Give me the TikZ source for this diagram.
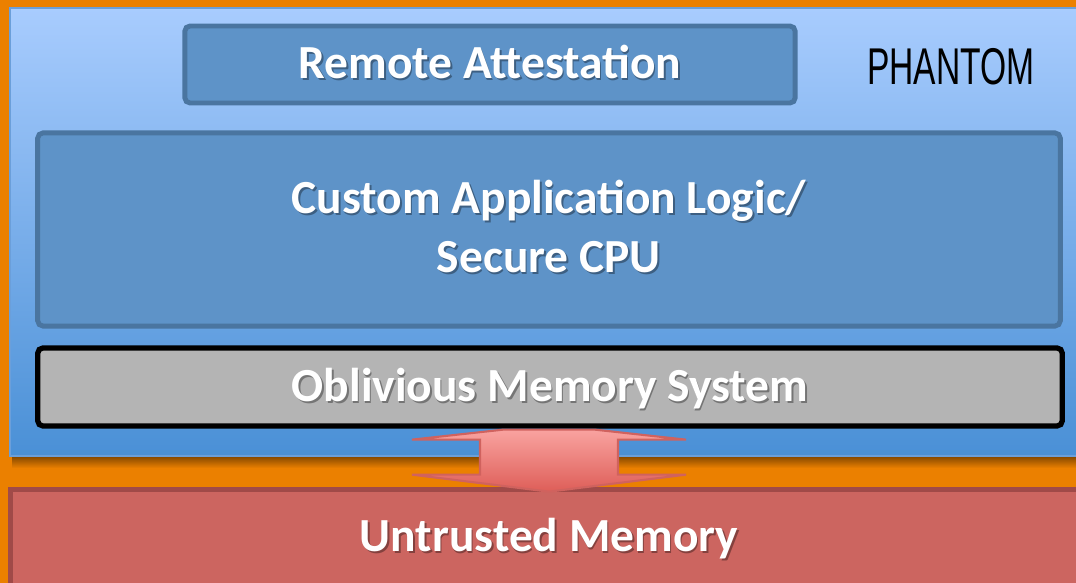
\documentclass[tikz,border=0pt]{standalone}
\usepackage{fontspec}
\setmainfont{Carlito}
\newfontfamily\labelfont{Carlito}
\newfontfamily\titlefont[FakeStretch=0.65]{Liberation Sans}
\usetikzlibrary{positioning,calc}
\definecolor{bgorange}{HTML}{EB8000}
\definecolor{paneltop}{HTML}{A8CCFE}
\definecolor{panelbot}{HTML}{4A90D6}
\definecolor{paneledge}{HTML}{6B9FDA}
\definecolor{boxblue}{HTML}{5E93C8}
\definecolor{boxedge}{HTML}{4A75A0}
\definecolor{memgray}{HTML}{B4B4B4}
\definecolor{memred}{HTML}{CC6560}
\definecolor{rededge}{HTML}{A04A48}
\definecolor{arrtop}{HTML}{F9A3A0}
\definecolor{arrbot}{HTML}{DE5E58}
\definecolor{arredge}{HTML}{D0625E}
\tikzset{
  bluebox/.style={draw=boxedge, fill=boxblue, line width=1.4pt, rounded corners=1.5pt},
  graybox/.style={draw=black, fill=memgray, line width=1.5pt, rounded corners=1.5pt},
  lbl/.style={text=white, inner sep=0pt, align=center, font={\labelfont\bfseries\fontsize{13.5}{17}\selectfont}},
  lblshadow/.style={lbl, text=black, opacity=0.35},
}
\begin{document}
\begin{tikzpicture}[x=0.01cm, y=-0.01cm]
	\useasboundingbox (0,0) rectangle (1076,583);
	\fill[bgorange] (0,0) rectangle (1076,583);
	% trusted panel
	\shade[top color=black!45!bgorange, bottom color=bgorange] (12,456) rectangle (1090,468);
	\shade[top color=paneltop, bottom color=panelbot, draw=paneledge, line width=0.5pt] (10,8) rectangle (1090,456);
	\node[font={\titlefont\fontsize{14.7}{16}\selectfont}, anchor=base] (title) at (951,85) {PHANTOM};
	% boxes
	\node[bluebox, minimum width=6.1cm, minimum height=0.77cm] (attest) at (490,64.5) {};
	\node[bluebox, minimum width=10.22cm, minimum height=1.93cm] (logic) at (549,229.5) {};
	\node[graybox, minimum width=10.24cm, minimum height=0.78cm] (omem) at (550,387) {};
	% untrusted memory
	\fill[rededge] (8,487) rectangle (1090,600);
	\fill[memred] (13,492) rectangle (1090,600);
	\coordinate (umem) at (549,552);
	% arrow between memories
	\coordinate (arr) at ($(omem.south)+(-1,0)$);
	\draw[arredge, line width=0.6pt, top color=arrtop, bottom color=arrbot]
		($(arr)+(-137,11)$) -- ($(arr)+(-46,1)$) -- ($(arr)+(46,1)$) -- ($(arr)+(137,11)$)
		-- ($(arr)+(69,11)$) -- ($(arr)+(69,46)$) -- ($(arr)+(137,46)$) -- ($(arr)+(0,63)$)
		-- ($(arr)+(-137,46)$) -- ($(arr)+(-69,46)$) -- ($(arr)+(-69,11)$) -- cycle;
	% labels
	\coordinate (attestbase) at ($(attest.center)+(0,14.5)$);
	\coordinate (omembase) at ($(omem.center)+(0,15)$);
	\foreach \pos/\txt [count=\i] in {
		attestbase/Remote Attestation,
		omembase/Oblivious Memory System,
		umem/Untrusted Memory} {
		\node[lblshadow, anchor=base] (s\i) at ($(\pos)+(1.5,2)$) {\txt};
		\node[lbl, anchor=base] (l\i) at (\pos) {\txt};
	}
	\node[lblshadow] (logicshadow) at ($(logic.center)+(1.5,-1)$) {Custom Application Logic/\\Secure CPU};
	\node[lbl] (logiclbl) at ($(logic.center)+(0,-3)$) {Custom Application Logic/\\Secure CPU};
\end{tikzpicture}
\end{document}
